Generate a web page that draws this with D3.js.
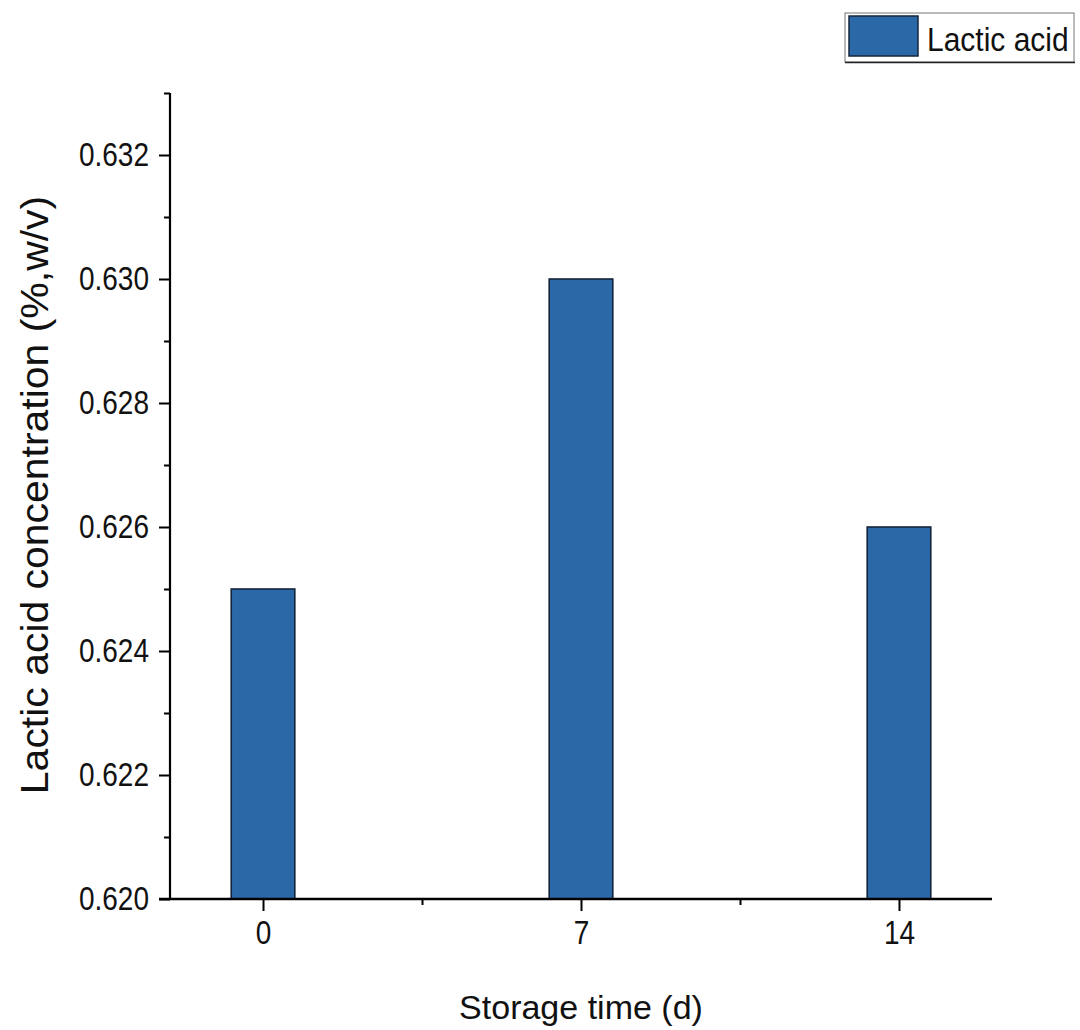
<!DOCTYPE html>
<html><head><meta charset="utf-8">
<script src="https://cdn.jsdelivr.net/npm/d3@7"></script>
<style>body{margin:0;background:#fff}svg{display:block}text{font-family:"Liberation Sans",Arial,sans-serif;fill:#111}</style>
</head><body>
<script>
const categories = ["0", "7", "14"];
const values = [0.625, 0.630, 0.626];
const seriesName = "Lactic acid";
const yMajorTicks = [0.620, 0.622, 0.624, 0.626, 0.628, 0.630, 0.632];
const yMinorTicks = [0.621, 0.623, 0.625, 0.627, 0.629, 0.631, 0.633];
const xTitle = "Storage time (d)";
const yTitle = "Lactic acid concentration (%,w/v)";

const W = 1080, H = 1030;
const svg = d3.select("body").append("svg").attr("width", W).attr("height", H);

const x = d3.scaleLinear().domain([-0.2925, 2.2925]).range([170, 992]);
const y = d3.scaleLinear().domain([0.620, 0.633]).range([899, 93]);
const barW = x(0.2) - x(0);
const fill = "#2b68a8";
const vs = 1.17; // vertical stretch of text as in reference

// bars
svg.append("g").selectAll("rect").data(values).join("rect")
  .attr("x", (d, i) => x(i) - barW / 2)
  .attr("y", d => y(d))
  .attr("width", barW)
  .attr("height", d => y(0.620) - y(d))
  .attr("fill", fill)
  .attr("stroke", "#16243a")
  .attr("stroke-width", 1.6);

// y axis
const yAxis = svg.append("g").attr("transform", `translate(${x.range()[0]},0)`)
  .call(d3.axisLeft(y).tickValues(yMajorTicks).tickFormat(d3.format(".3f")).tickSize(11).tickPadding(10));
yAxis.append("g").call(d3.axisLeft(y).tickValues(yMinorTicks).tickFormat("").tickSize(6))
  .select(".domain").remove();
yAxis.selectAll("text").attr("font-size", 28).style("font-family", "Liberation Sans, Arial, sans-serif")
  .attr("fill", "#111").attr("transform", `scale(1,${vs})`);

// x axis
const xAxis = svg.append("g").attr("transform", `translate(0,${y(0.620)})`)
  .call(d3.axisBottom(x).tickValues([0, 1, 2]).tickFormat(i => categories[i]).tickSize(12).tickPadding(10));
xAxis.append("g").call(d3.axisBottom(x).tickValues([0.5, 1.5]).tickFormat("").tickSize(6))
  .select(".domain").remove();
xAxis.selectAll("text").attr("font-size", 28).style("font-family", "Liberation Sans, Arial, sans-serif")
  .attr("fill", "#111").attr("y", 19).attr("transform", `scale(1,${vs})`);

svg.selectAll(".domain").remove();
svg.append("line").attr("x1", x.range()[0]).attr("x2", x.range()[0]).attr("y1", y.range()[1]).attr("y2", y.range()[0] + 1)
  .attr("stroke", "#000").attr("stroke-width", 2.2);
svg.append("line").attr("x1", x.range()[0] - 11).attr("x2", x.range()[1]).attr("y1", y(0.620)).attr("y2", y(0.620))
  .attr("stroke", "#000").attr("stroke-width", 2.6);
svg.selectAll(".tick line").attr("stroke", "#000").attr("stroke-width", 2);

// titles
svg.append("text").attr("x", (x.range()[0] + x.range()[1]) / 2).attr("y", 1019)
  .attr("text-anchor", "middle").attr("font-size", 34).text(xTitle);
svg.append("text").attr("transform", `translate(48,${(y.range()[0] + y.range()[1]) / 2 - 1}) rotate(-90) scale(1.05,1)`)
  .attr("text-anchor", "middle").attr("font-size", 39).text(yTitle);

// legend
const lg = svg.append("g");
lg.append("rect").attr("x", 845).attr("y", 13).attr("width", 229).attr("height", 49)
  .attr("fill", "#fff").attr("stroke", "#777").attr("stroke-width", 1);
lg.append("line").attr("x1", 845).attr("x2", 1075).attr("y1", 62.5).attr("y2", 62.5).attr("stroke", "#222").attr("stroke-width", 1.5);
lg.append("rect").attr("x", 849).attr("y", 16).attr("width", 69).attr("height", 40)
  .attr("fill", fill).attr("stroke", "#16243a").attr("stroke-width", 1.5);
lg.append("text").attr("transform", `translate(927,51) scale(1,1.12)`).attr("font-size", 30).text(seriesName);
</script>
</body></html>
